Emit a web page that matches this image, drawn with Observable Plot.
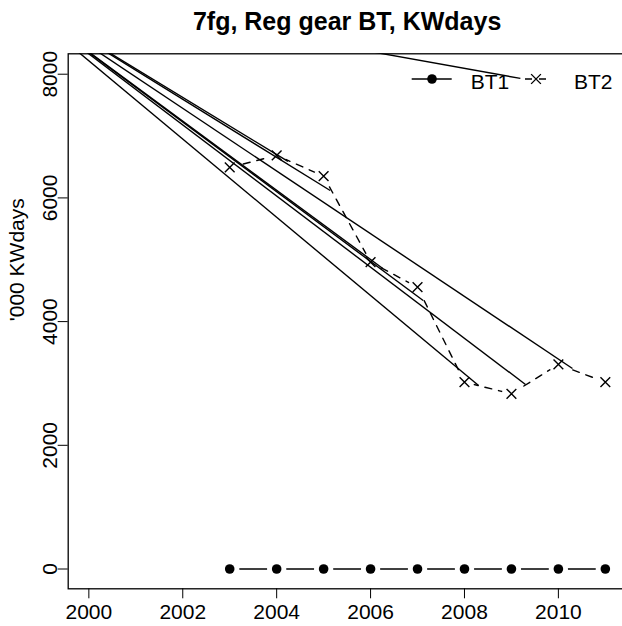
<!DOCTYPE html>
<html><head><meta charset="utf-8">
<script src="https://cdn.jsdelivr.net/npm/d3@7"></script>
<script src="https://cdn.jsdelivr.net/npm/@observablehq/plot@0.6"></script>
<style>
html,body{margin:0;padding:0;background:#fff;overflow:hidden;}
#wrap{position:relative;width:622px;height:626px;overflow:hidden;}
#legend{position:absolute;left:0;top:0;pointer-events:none;}
</style></head><body><div id="wrap"></div>
<script>
// ---- data ----
const years = [2003, 2004, 2005, 2006, 2007, 2008, 2009, 2010, 2011];
const bt1 = [0, 0, 0, 0, 0, 0, 0, 0, 0];
const bt2 = [6493, 6687, 6352, 4961, 4557, 3021, 2833, 3307, 3021];
// straight solid lines drawn from one common start to several end points
const lineStartYear = 1998.05;
const lineStartValue = 9450;
const lineEndYears  = [2004.24, 2005.14, 2006.26, 2007.12, 2008.30, 2009.30, 2010.30, 2009.19];
const lineEndValues = [6590, 6120, 4859, 4342, 2967, 2983, 3242, 7932];
const xTicks = [2000, 2002, 2004, 2006, 2008, 2010];
const yTicks = [0, 2000, 4000, 6000, 8000];
const seriesNames = ["BT1", "BT2"];
const titleText = "7fg, Reg gear BT, KWdays";
const yLabel = "'000 KWdays";

// ---- build tables ----
const d1 = years.map((x, i) => ({x, y: bt1[i]}));
const d2 = years.map((x, i) => ({x, y: bt2[i]}));
const segs = lineEndYears.map((x, i) => ({x1: lineStartYear, y1: lineStartValue, x2: x, y2: lineEndValues[i]}));

const font = "'Liberation Sans', Arial, Helvetica, sans-serif";
const lw = 1.4;

const plot = Plot.plot({
  width: 622, height: 626,
  marginLeft: 67.7, marginTop: 53.3, marginBottom: 37.7, marginRight: -3.5,
  x: {domain: [1999.56, 2011.44]},
  y: {domain: [-320, 8330]},
  style: {fontFamily: font, fontSize: "21px", color: "#000", background: "#fff", overflow: "hidden"},
  marks: [
    Plot.frame({stroke: "#000", strokeWidth: 1.3}),
    Plot.axisX(xTicks, {tickSize: 10, tickPadding: 5, fontSize: 21, label: null, tickFormat: d => String(d)}),
    Plot.axisY(yTicks, {tickSize: 10, tickPadding: 1, tickRotate: -90, fontSize: 21, label: null, tickFormat: d => String(d)}),
    Plot.line(d2, {x: "x", y: "y", stroke: "#000", strokeWidth: lw, strokeDasharray: "7,7"}),
    Plot.line(d1, {x: "x", y: "y", stroke: "#000", strokeWidth: lw}),
    Plot.dot(d1.concat(d2), {x: "x", y: "y", r: 9.7, fill: "#fff", stroke: "none"}),
    Plot.link(segs, {x1: "x1", y1: "y1", x2: "x2", y2: "y2", stroke: "#000", strokeWidth: lw, clip: true}),
    Plot.dot(d1, {x: "x", y: "y", r: 4.8, fill: "#000", stroke: "none"}),
    Plot.dot(d2, {x: "x", y: "y", symbol: "times", r: 4.5, stroke: "#000", strokeWidth: lw}),
    Plot.text([titleText], {frameAnchor: "top", lineAnchor: "bottom", dy: -24, fontWeight: "bold", fontSize: 25}),
    Plot.text([yLabel], {frameAnchor: "left", rotate: -90, lineAnchor: "bottom", dx: -43.7, fontSize: 21})
  ]
});
document.getElementById("wrap").appendChild(plot);

// ---- legend (R style, no box) ----
const lg = d3.select("#wrap").append("svg").attr("id", "legend").attr("width", 622).attr("height", 626);
const gy = 79;
// BT1
lg.append("line").attr("x1", 411.7).attr("x2", 451.7).attr("y1", gy).attr("y2", gy).attr("stroke", "#000").attr("stroke-width", lw);
lg.append("circle").attr("cx", 432).attr("cy", gy).attr("r", 4.8).attr("fill", "#000");
lg.append("text").attr("x", 470.7).attr("y", gy + 10).attr("font-family", font).attr("font-size", 21).text(seriesNames[0]);
// BT2
lg.append("line").attr("x1", 525).attr("x2", 547).attr("y1", gy).attr("y2", gy).attr("stroke", "#000").attr("stroke-width", lw).attr("stroke-dasharray", "7,7");
lg.append("path").attr("d", d3.symbol(d3.symbolTimes, Math.PI * 4.5 * 4.5)()).attr("transform", `translate(536,${gy})`).attr("stroke", "#000").attr("stroke-width", lw).attr("fill", "none");
lg.append("text").attr("x", 574).attr("y", gy + 10).attr("font-family", font).attr("font-size", 21).text(seriesNames[1]);
</script></body></html>
